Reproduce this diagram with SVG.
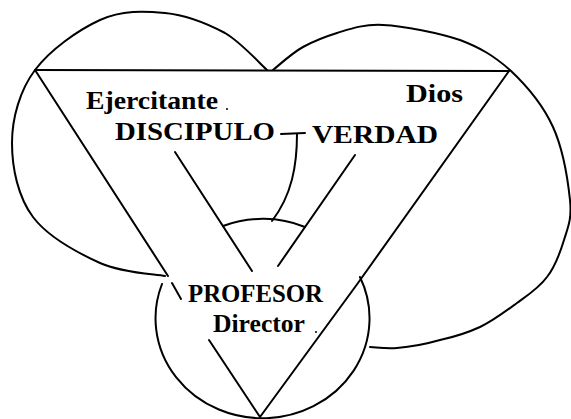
<svg xmlns="http://www.w3.org/2000/svg" width="571" height="419" viewBox="0 0 571 419">
  <style>
    .ln { fill: none; stroke: #000; stroke-width: 2; stroke-linecap: round; stroke-linejoin: round; }
    .lbl { font-family: "Liberation Serif", "Times New Roman", serif; font-weight: bold; fill: #000; }
  </style>
  <rect width="571" height="419" fill="#fff"/>

  <g id="node-ejercitante">
    <path class="ln" d="M165,276 C154,274 122,273 100,263 C78,253 48,237 33,217 C18,197 12,168 12,143 C12,118 20,90 35,70 C50,50 78,30 100,20 C122,10 144,11 165,13 C186,15 208,24 225,33 C242,43 260,64 267,70"/>
    <text class="lbl" x="86" y="109" font-size="25" textLength="132" lengthAdjust="spacingAndGlyphs">Ejercitante</text>
    <circle cx="227" cy="109" r="1" fill="#000"/>
    <text class="lbl" x="115" y="140" font-size="26" textLength="160" lengthAdjust="spacingAndGlyphs">DISCIPULO</text>
  </g>

  <g id="node-dios">
    <path class="ln" d="M273,70 C278,66 292,53 303,47 C314,41 324,37 337,33 C350,29 363,24 383,25 C404,26 439,33 460,40 C481,48 494,56 510,70 C526,85 543,105 553,127 C563,149 568,181 570,200 C572,219 568,227 564,240 C560,253 555,267 547,277 C539,288 528,295 517,303 C506,311 493,321 480,327 C467,333 454,337 440,340 C426,344 409,347 397,348 C385,349 375,347 370,347"/>
    <text class="lbl" x="406" y="102" font-size="25" textLength="57" lengthAdjust="spacingAndGlyphs">Dios</text>
    <text class="lbl" x="312" y="143" font-size="25" textLength="126" lengthAdjust="spacingAndGlyphs">VERDAD</text>
  </g>

  <g id="node-profesor">
    <path class="ln" d="M162,284 A107,100 0 1,0 360,277"/>
    <path class="ln" d="M223,226 A107,100 0 0,1 305,227"/>
    <text class="lbl" x="188" y="302" font-size="25" textLength="135" lengthAdjust="spacingAndGlyphs">PROFESOR</text>
    <text class="lbl" x="213" y="332" font-size="25" textLength="92" lengthAdjust="spacingAndGlyphs">Director</text>
    <circle cx="316" cy="332" r="1" fill="#000"/>
  </g>

  <g id="triangle">
    <path class="ln" d="M35,70 L509,71"/>
    <path class="ln" d="M35,70 L168,276"/>
    <path class="ln" d="M172,283 L181,299"/>
    <path class="ln" d="M209,340 L260,417"/>
    <path class="ln" d="M509,71 L358,283 L260,417"/>
  </g>

  <g id="connectors">
    <path class="ln" d="M175,152 L252,271"/>
    <path class="ln" d="M355,155 L278,266"/>
    <path class="ln" d="M281,134 L305,133"/>
    <path class="ln" d="M297,134 C297,165 292,195 272,221"/>
  </g>
</svg>
